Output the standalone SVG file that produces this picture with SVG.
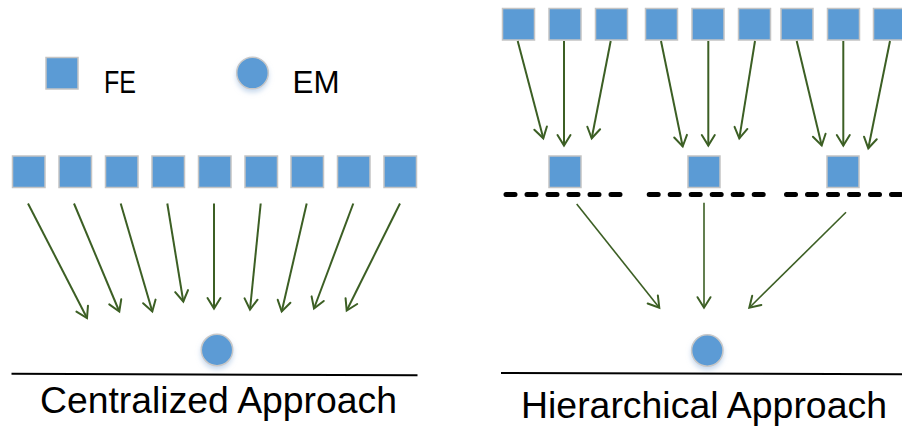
<svg xmlns="http://www.w3.org/2000/svg" width="902" height="428" viewBox="0 0 902 428">
  <style>
    .fe { fill: #5B9BD5; stroke: #C4C4C4; stroke-width: 1.5; }
    .em { fill: #5B9BD5; stroke: #C8C8C8; stroke-width: 1.5; filter: url(#glow); }
    .lbl { font-family: "Liberation Sans", Arial, sans-serif; fill: #000; }
    .arr { stroke: #3C5F24; stroke-width: 2; fill: none; marker-end: url(#head); }
    .arr2 { stroke: #3C5F24; stroke-width: 1.6; fill: none; marker-end: url(#head); }
    .dash { stroke: #000; stroke-width: 5; stroke-linecap: round; stroke-dasharray: 9 12; fill: none; }
    .base { stroke: #000; stroke-width: 2; fill: none; }
  </style>
  <defs>
    <marker id="head" viewBox="-12 -8 14 16" refX="0" refY="0" markerWidth="14" markerHeight="16" markerUnits="userSpaceOnUse" orient="auto" overflow="visible">
      <path d="M-10.5,-6.5 L0,0 L-10.5,6.5" fill="none" stroke="#3C5F24" stroke-width="2" stroke-linecap="round" stroke-linejoin="miter"/>
    </marker>
    <filter id="glow" x="-50%" y="-50%" width="200%" height="220%">
      <feDropShadow dx="0" dy="3" stdDeviation="2.5" flood-color="#9DBCE0" flood-opacity="0.55"/>
    </filter>
  </defs>

  <!-- Legend -->
  <g id="legend-fe">
    <rect class="fe" x="46" y="57.5" width="32" height="31.5"/>
    <text class="lbl" x="104" y="93" font-size="32" textLength="32" lengthAdjust="spacingAndGlyphs">FE</text>
  </g>
  <g id="legend-em">
    <circle class="em" cx="252.5" cy="73" r="15.8"/>
    <text class="lbl" x="292.5" y="93" font-size="32" textLength="47" lengthAdjust="spacingAndGlyphs">EM</text>
  </g>

  <!-- Centralized approach: FE row -->
  <g id="c-fe-1"><rect class="fe" x="12.5" y="156" width="32.5" height="31.5"/></g>
  <g id="c-fe-2"><rect class="fe" x="59" y="156" width="32.5" height="31.5"/></g>
  <g id="c-fe-3"><rect class="fe" x="105.5" y="156" width="32.5" height="31.5"/></g>
  <g id="c-fe-4"><rect class="fe" x="152" y="156" width="32.5" height="31.5"/></g>
  <g id="c-fe-5"><rect class="fe" x="198.5" y="156" width="32.5" height="31.5"/></g>
  <g id="c-fe-6"><rect class="fe" x="245" y="156" width="32.5" height="31.5"/></g>
  <g id="c-fe-7"><rect class="fe" x="291" y="156" width="32.5" height="31.5"/></g>
  <g id="c-fe-8"><rect class="fe" x="337.5" y="156" width="32.5" height="31.5"/></g>
  <g id="c-fe-9"><rect class="fe" x="384" y="156" width="32.5" height="31.5"/></g>

  <g id="c-em"><circle class="em" cx="217" cy="350" r="15.7"/></g>

  <g id="c-connectors">
    <line class="arr" x1="28" y1="203.5" x2="87" y2="318"/>
    <line class="arr" x1="74" y1="203.5" x2="119.3" y2="311.5"/>
    <line class="arr" x1="120.7" y1="203.5" x2="152.3" y2="311.5"/>
    <line class="arr" x1="167.3" y1="203.5" x2="183.3" y2="301.5"/>
    <line class="arr" x1="214" y1="203.5" x2="214" y2="308.5"/>
    <line class="arr" x1="260.7" y1="203.5" x2="250" y2="309.5"/>
    <line class="arr" x1="306.7" y1="203.5" x2="281.7" y2="311.5"/>
    <line class="arr" x1="353.3" y1="203.5" x2="314" y2="308.5"/>
    <line class="arr" x1="400" y1="203.5" x2="346.7" y2="310.5"/>
  </g>

  <g id="c-caption">
    <line class="base" x1="11.5" y1="373.7" x2="417.5" y2="375.3"/>
    <text class="lbl" x="40" y="412.5" font-size="36" textLength="357" lengthAdjust="spacingAndGlyphs">Centralized Approach</text>
  </g>

  <!-- Hierarchical approach: FE top row -->
  <g id="h-fe-1"><rect class="fe" x="502.5" y="8.5" width="32" height="31.5"/></g>
  <g id="h-fe-2"><rect class="fe" x="549" y="8.5" width="32" height="31.5"/></g>
  <g id="h-fe-3"><rect class="fe" x="595.5" y="8.5" width="32" height="31.5"/></g>
  <g id="h-fe-4"><rect class="fe" x="645.5" y="8.5" width="32" height="31.5"/></g>
  <g id="h-fe-5"><rect class="fe" x="692" y="8.5" width="32" height="31.5"/></g>
  <g id="h-fe-6"><rect class="fe" x="738.5" y="8.5" width="32" height="31.5"/></g>
  <g id="h-fe-7"><rect class="fe" x="781" y="8.5" width="32" height="31.5"/></g>
  <g id="h-fe-8"><rect class="fe" x="827.5" y="8.5" width="32" height="31.5"/></g>
  <g id="h-fe-9"><rect class="fe" x="873.5" y="8.5" width="32" height="31.5"/></g>

  <!-- Intermediate FEs -->
  <g id="h-mid-1"><rect class="fe" x="549" y="156" width="32" height="31.5"/></g>
  <g id="h-mid-2"><rect class="fe" x="688" y="156" width="32" height="31.5"/></g>
  <g id="h-mid-3"><rect class="fe" x="827" y="156" width="32" height="31.5"/></g>

  <g id="h-em"><circle class="em" cx="707.3" cy="350.5" r="15.7"/></g>

  <g id="h-connectors">
    <line class="arr" x1="517.7" y1="41" x2="543.3" y2="138.3"/>
    <line class="arr" x1="564" y1="41" x2="564" y2="145.5"/>
    <line class="arr" x1="610.7" y1="41" x2="591.7" y2="138.3"/>
    <line class="arr" x1="661" y1="41" x2="682.7" y2="146.5"/>
    <line class="arr" x1="708.3" y1="41" x2="708.3" y2="145.5"/>
    <line class="arr" x1="755" y1="41" x2="739.3" y2="138.3"/>
    <line class="arr" x1="796.7" y1="41" x2="821.7" y2="145.5"/>
    <line class="arr" x1="843.3" y1="41" x2="843.3" y2="145.5"/>
    <line class="arr" x1="890" y1="41" x2="868.3" y2="148.3"/>

    <line class="arr2" x1="576.7" y1="204" x2="659.3" y2="307.7"/>
    <line class="arr2" x1="704" y1="202.7" x2="704" y2="307.7"/>
    <line class="arr2" x1="846" y1="212.3" x2="749.3" y2="307.7"/>
  </g>

  <!-- Level separators -->
  <g id="h-separators">
    <line class="dash" x1="506" y1="194.5" x2="620" y2="194.5"/>
    <line class="dash" x1="649.2" y1="194.5" x2="763.5" y2="194.5"/>
    <line class="dash" x1="786.5" y1="194.5" x2="910" y2="194.5"/>
  </g>

  <g id="h-caption">
    <line class="base" x1="501" y1="373" x2="902" y2="374.3"/>
    <text class="lbl" x="521" y="418" font-size="36" textLength="366" lengthAdjust="spacingAndGlyphs">Hierarchical Approach</text>
  </g>
</svg>
